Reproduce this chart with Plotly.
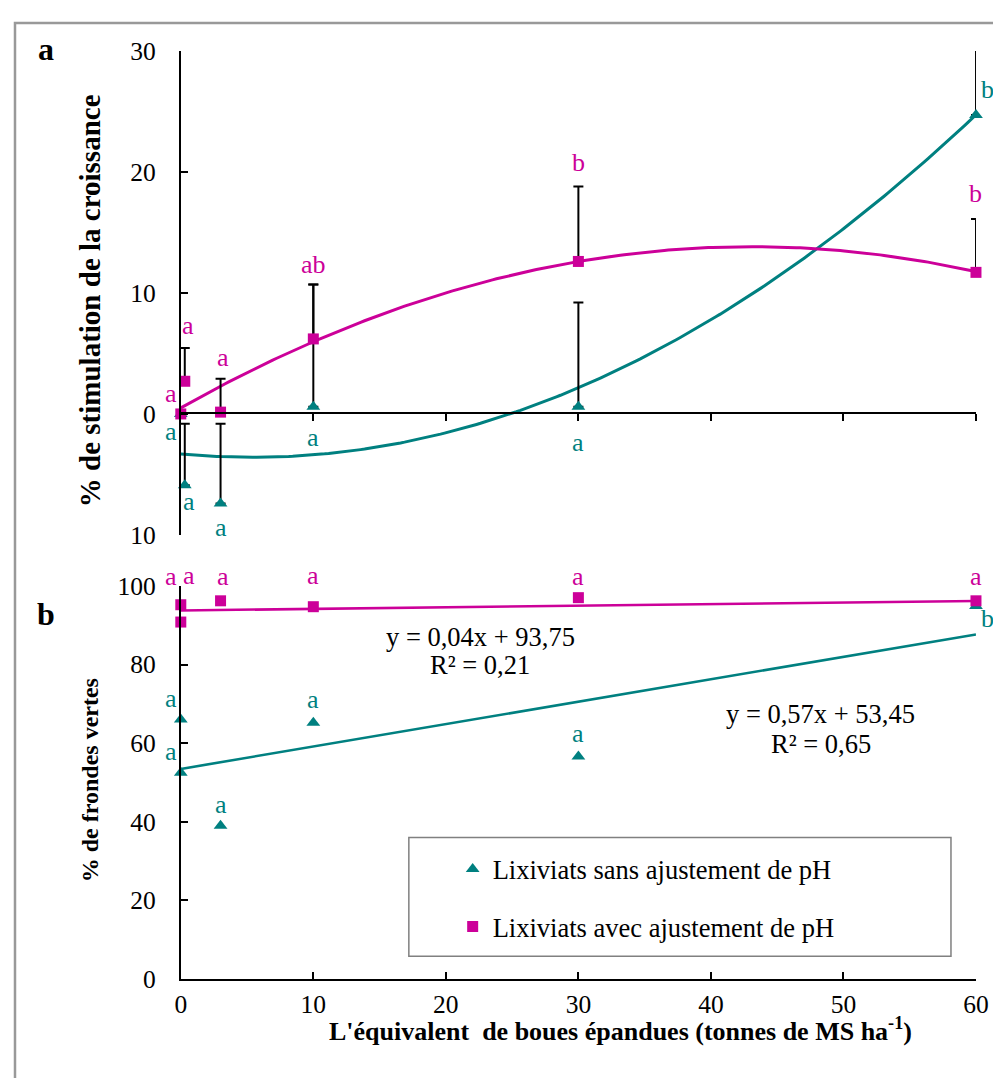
import numpy as np
import plotly.graph_objects as go

# ---------------- DATA ----------------
# Panel a : % de stimulation de la croissance
dose_a = [0, 0.3, 3, 10, 30, 60]
stim_sans = [0, -5.9, -7.4, 0.6, 0.6, 24.7]
err_sans = [0, 5.1, 6.6, 10.1, 8.6, 6.0]
stim_avec = [0, 2.7, 0.15, 6.2, 12.6, 11.7]
err_avec = [0, 2.75, 2.75, 4.5, 6.2, 4.4]
lettres_sans_a = ['a', 'a', 'a', 'a', 'a', 'b']
lettres_avec_a = ['a', 'a', 'a', 'ab', 'b', 'b']
poly_sans_a = [0.0095, -0.103, -3.3]     # tendance polynomiale (ordre 2)
poly_avec_a = [-0.00719, 0.619, 0.5]

# Panel b : % de frondes vertes
dose_b = [0, 0, 3, 10, 30, 60]
vertes_sans = [66.0, 52.5, 39.0, 65.2, 56.6, 94.9]
vertes_avec = [95.2, 90.8, 96.2, 94.7, 97.0, 96.2]
lettres_sans_b = ['a', 'a', 'a', 'a', 'a', 'b']
lettres_avec_b = ['a', 'a', 'a', 'a', 'a', 'a']
lin_sans_b = [0.57, 53.45]
lin_avec_b = [0.04, 93.75]
eq_sans_b = ["y = 0,57x + 53,45", "R² = 0,65"]
eq_avec_b = ["y = 0,04x + 93,75", "R² = 0,21"]

x_ticks = [0, 10, 20, 30, 40, 50, 60]
ya_tickvals = [-10, 0, 10, 20, 30]
ya_ticktext = ['10', '0', '10', '20', '30']
yb_tickvals = [0, 20, 40, 60, 80, 100]

name_sans = "Lixiviats sans ajustement de pH"
name_avec = "Lixiviats avec ajustement de pH"

# ---------------- STYLE ----------------
TEAL = "#008080"
MAG = "#CC0099"
FONT = "Liberation Serif"
W, H = 1012, 1080
# observed mapping figure-pixel -> photo-pixel: photo = S * (fig + M)
SX, MX = 0.981, 13.5
SY, MY = 0.975, 21.6


def fx(s):
    return s / SX - MX


def fy(s):
    return s / SY - MY


def px(s):
    return fx(s) / W


def py(s):
    return 1 - fy(s) / H


# label offsets in photo pixels (xshift, yshift)
off_sans_a = [(-10, -17), (4, -16), (0, -23), (0, -30), (0, -35), (11, 25)]
off_avec_a = [(-10, 20), (3, 22), (2, 21), (0, 19), (0, 23), (0, 25)]
off_sans_b = [(-10, 21), (-10, 21), (0, 21), (0, 23), (0, 22), (11, -12)]
off_avec_b = [(-10, 28), (8, 45), (2, 24), (0, 30), (0, 21), (0, 24)]

fig = go.Figure()

xs = np.linspace(0, 60, 200)
# --- trend lines panel a
fig.add_trace(go.Scatter(x=xs, y=np.polyval(poly_sans_a, xs), mode='lines',
                         line=dict(color=TEAL, width=3), xaxis='x2', yaxis='y2',
                         showlegend=False, hoverinfo='skip'))
fig.add_trace(go.Scatter(x=xs, y=np.polyval(poly_avec_a, xs), mode='lines',
                         line=dict(color=MAG, width=3), xaxis='x2', yaxis='y2',
                         showlegend=False, hoverinfo='skip'))
# --- error bars panel a (clipped to plot area)
for vals, errs in [(stim_sans, err_sans), (stim_avec, err_avec)]:
    fig.add_trace(go.Scatter(x=dose_a, y=vals, mode='markers',
                             marker=dict(size=1, opacity=0),
                             error_y=dict(type='data', symmetric=False, array=errs,
                                          arrayminus=[0] * len(errs), color='black',
                                          thickness=2, width=5),
                             xaxis='x2', yaxis='y2', showlegend=False,
                             cliponaxis=True, hoverinfo='skip'))
# --- markers panel a
fig.add_trace(go.Scatter(x=dose_a, y=stim_sans, mode='markers', name=name_sans,
                         marker=dict(symbol='triangle-up', size=12, color=TEAL),
                         xaxis='x2', yaxis='y2', cliponaxis=False, legendgroup='s'))
fig.add_trace(go.Scatter(x=dose_a, y=stim_avec, mode='markers', name=name_avec,
                         marker=dict(symbol='square', size=11, color=MAG),
                         xaxis='x2', yaxis='y2', cliponaxis=False, legendgroup='v'))

# --- panel b lines
xl = np.array([0, 60])
fig.add_trace(go.Scatter(x=xl, y=np.polyval(lin_sans_b, xl), mode='lines',
                         line=dict(color=TEAL, width=2.6), showlegend=False, hoverinfo='skip'))
fig.add_trace(go.Scatter(x=xl, y=np.polyval(lin_avec_b, xl), mode='lines',
                         line=dict(color=MAG, width=2.6), showlegend=False, hoverinfo='skip'))
fig.add_trace(go.Scatter(x=dose_b, y=vertes_sans, mode='markers',
                         marker=dict(symbol='triangle-up', size=12, color=TEAL),
                         cliponaxis=False, showlegend=False))
fig.add_trace(go.Scatter(x=dose_b, y=vertes_avec, mode='markers',
                         marker=dict(symbol='square', size=11, color=MAG),
                         cliponaxis=False, showlegend=False))

ann = []
lab_font = 26


def lab(x, y, xr, yr, t, off, col):
    return dict(x=x, y=y, xref=xr, yref=yr, text=t, showarrow=False,
                xshift=off[0] / SX, yshift=off[1] / SY, xanchor='center', yanchor='middle',
                font=dict(family=FONT, size=lab_font, color=col))


for i in range(len(dose_a)):
    ann.append(lab(dose_a[i], stim_sans[i], 'x2', 'y2', lettres_sans_a[i], off_sans_a[i], TEAL))
    ann.append(lab(dose_a[i], stim_avec[i] + err_avec[i], 'x2', 'y2', lettres_avec_a[i],
                   off_avec_a[i], MAG))
for i in range(len(dose_b)):
    ann.append(lab(dose_b[i], vertes_sans[i], 'x', 'y', lettres_sans_b[i], off_sans_b[i], TEAL))
    ann.append(lab(dose_b[i], vertes_avec[i], 'x', 'y', lettres_avec_b[i], off_avec_b[i], MAG))

eq_font = dict(family=FONT, size=26.5, color='black')
for xx, yy, tt in [(22.6, 87.1, eq_avec_b[0]), (22.6, 80.0, eq_avec_b[1]),
                   (48.3, 67.3, eq_sans_b[0]), (48.3, 59.9, eq_sans_b[1])]:
    ann.append(dict(x=xx, y=yy, xref='x', yref='y', text=tt, showarrow=False,
                    xanchor='center', yanchor='middle', font=eq_font))

for xx, yy, tt, ang, sz in [
    (45, 48, '<b>a</b>', 0, 32),
    (45, 614, '<b>b</b>', 0, 32),
    (90, 300, '<b>% de stimulation de la croissance</b>', -90, 29),
    (90, 781, '<b>% de frondes vertes</b>', -90, 24),
    (620, 1030, "<b>L'équivalent  de boues épandues (tonnes de MS ha<sup>-1</sup>)</b>", 0, 26),
]:
    ann.append(dict(x=px(xx), y=py(yy), xref='paper', yref='paper', text=tt, textangle=ang,
                    showarrow=False, xanchor='center', yanchor='middle',
                    font=dict(family=FONT, size=sz, color='black')))

xdom = [px(180), px(975)]
axis_common = dict(showline=True, linecolor='black', linewidth=2, showgrid=False,
                   zeroline=False, tickcolor='black', tickwidth=2,
                   tickfont=dict(family=FONT, size=25.5, color='black'))

fig.update_layout(
    width=W, height=H, margin=dict(l=0, r=0, t=0, b=0),
    paper_bgcolor='white', plot_bgcolor='white',
    xaxis=dict(domain=xdom, range=[0, 60], anchor='y', tickvals=x_ticks, ticks='inside',
               ticklen=7, ticklabelstandoff=1, **axis_common),
    yaxis=dict(domain=[py(980), py(586)], range=[0, 100], anchor='x', tickvals=yb_tickvals,
               ticks='inside', ticklen=7, ticklabelstandoff=18, **axis_common),
    xaxis2=dict(domain=xdom, range=[0, 60], anchor='free', position=py(413),
                tickvals=x_ticks[1:], ticks='outside', ticklen=7, showticklabels=False,
                **axis_common),
    yaxis2=dict(domain=[py(535), py(50)], range=[-10, 30], anchor='x2', tickvals=ya_tickvals,
                ticktext=ya_ticktext, ticks='inside', ticklen=7, ticklabelstandoff=18,
                **axis_common),
    annotations=ann,
    showlegend=True,
    legend=dict(x=(fx(494) - 43) / W, y=1 - 846 / H, xanchor='left', yanchor='top',
                bgcolor='rgba(0,0,0,0)', borderwidth=0, tracegroupgap=20,
                font=dict(family=FONT, size=26.5, color='black')),
    shapes=[
        dict(type='rect', xref='paper', yref='paper', x0=px(408), x1=px(950),
             y0=py(957), y1=py(838), line=dict(color='#808080', width=1.5)),
        dict(type='rect', xref='paper', yref='paper', x0=0.001, x1=1.1,
             y0=-0.1, y1=0.999, line=dict(color='#999999', width=2.5)),
    ],
)

fig.write_html("out.html")
